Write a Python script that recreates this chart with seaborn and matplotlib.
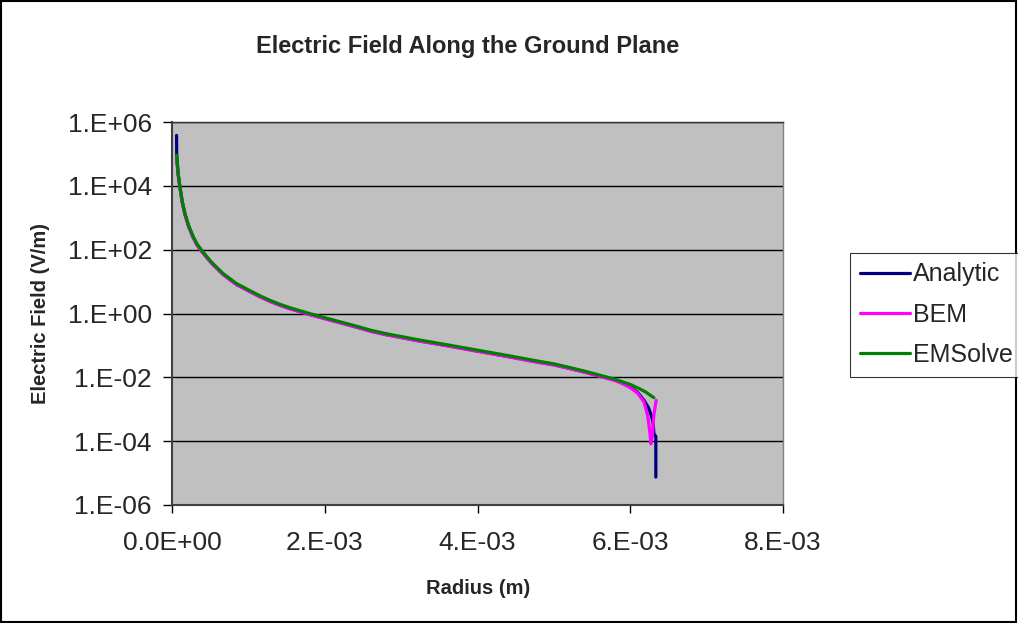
import matplotlib
matplotlib.use("Agg")
import matplotlib.pyplot as plt
from matplotlib.patches import Rectangle
import seaborn as sns
import pandas as pd

# ---------------- data ----------------
r_emsolve = [6.1e-5, 8e-5, 1.05e-4, 1.35e-4, 1.7e-4, 2.2e-4, 2.8e-4, 3.3e-4,
             3.9e-4, 4.5e-4, 5.2e-4, 6.0e-4, 6.7e-4, 7.6e-4, 8.5e-4, 9.4e-4,
             1.02e-3, 1.15e-3, 1.28e-3, 1.4e-3, 1.55e-3, 1.8e-3, 2.0e-3, 2.2e-3,
             2.4e-3, 2.6e-3, 2.8e-3, 3.0e-3, 3.24e-3, 3.6e-3, 4.0e-3, 4.4e-3,
             4.8e-3, 5.0e-3, 5.2e-3, 5.4e-3, 5.6e-3, 5.8e-3, 5.9e-3, 6.0e-3,
             6.12e-3, 6.2e-3, 6.31e-3]
e_emsolve = [9.1e4, 2.5e4, 9.1e3, 3.2e3, 1.35e3, 550, 250, 148,
             95, 63, 40, 26, 17.8, 12.3, 8.5, 6.6,
             5.2, 3.6, 2.6, 2.0, 1.5, 1.0, 0.74, 0.55,
             0.41, 0.30, 0.234, 0.19, 0.148, 0.105, 0.071, 0.048,
             0.032, 0.0265, 0.0205, 0.0157, 0.0117, 0.0087, 0.0072, 0.0060,
             0.0044, 0.0035, 0.0023]

r_bem = [5.8e-5, 8e-5, 1.05e-4, 1.35e-4, 1.7e-4, 2.2e-4, 2.8e-4, 3.3e-4,
         3.9e-4, 4.5e-4, 5.2e-4, 6.0e-4, 6.7e-4, 7.6e-4, 8.5e-4, 9.4e-4,
         1.02e-3, 1.15e-3, 1.28e-3, 1.4e-3, 1.55e-3, 1.8e-3, 2.0e-3, 2.2e-3,
         2.4e-3, 2.6e-3, 2.8e-3, 3.0e-3, 3.24e-3, 3.6e-3, 4.0e-3, 4.4e-3,
         4.8e-3, 5.0e-3, 5.2e-3, 5.4e-3, 5.6e-3, 5.8e-3, 5.9e-3,
         6.0e-3, 6.1e-3, 6.18e-3, 6.23e-3, 6.26e-3, 6.27e-3, 6.29e-3,
         6.31e-3, 6.34e-3]
e_bem = [7.5e4, 2.3e4, 8.4e3, 2.95e3, 1.24e3, 505, 230, 136,
         87, 58, 37, 24, 16.4, 11.3, 7.8, 6.1,
         4.8, 3.3, 2.4, 1.84, 1.38, 0.92, 0.68, 0.51,
         0.38, 0.276, 0.215, 0.175, 0.136, 0.097, 0.065, 0.044,
         0.029, 0.0243, 0.0189, 0.0144, 0.0107, 0.0079, 0.0063,
         0.0048, 0.0031, 0.0017, 6e-4, 1.6e-4, 8.3e-5, 1.5e-4,
         7e-4, 1.9e-3]

r_analytic = [6.0e-5, 6.2e-5, 8e-5, 1.05e-4, 1.35e-4, 1.7e-4, 2.2e-4, 2.8e-4,
              3.3e-4, 3.9e-4, 4.5e-4, 5.2e-4, 6.0e-4, 6.7e-4, 7.6e-4, 8.5e-4,
              9.4e-4, 1.02e-3, 1.15e-3, 1.28e-3, 1.4e-3, 1.55e-3, 1.8e-3, 2.0e-3,
              2.2e-3, 2.4e-3, 2.6e-3, 2.8e-3, 3.0e-3, 3.24e-3, 3.6e-3, 4.0e-3,
              4.4e-3, 4.8e-3, 5.0e-3, 5.2e-3, 5.4e-3, 5.6e-3, 5.8e-3, 5.9e-3,
              6.0e-3, 6.1e-3, 6.18e-3, 6.24e-3, 6.28e-3, 6.30e-3, 6.31e-3,
              6.335e-3, 6.335e-3]
e_analytic = [3.8e5, 9.0e4, 2.35e4, 8.6e3, 3.0e3, 1.27e3, 515, 235,
              139, 89, 59, 37.6, 24.4, 16.7, 11.6, 8.0,
              6.2, 4.9, 3.4, 2.45, 1.88, 1.41, 0.94, 0.70,
              0.52, 0.385, 0.282, 0.22, 0.179, 0.139, 0.099, 0.067,
              0.045, 0.030, 0.0249, 0.0193, 0.0147, 0.011, 0.0082, 0.0066,
              0.0049, 0.0033, 0.0019, 0.0011, 6e-4, 3.5e-4, 1.7e-4,
              1.4e-4, 7.5e-6]

series_names = ["Analytic", "BEM", "EMSolve"]
series_colors = ["#000080", "#FF00FF", "#008000"]

x_ticks = [0.0, 2e-3, 4e-3, 6e-3, 8e-3]
x_ticklabels = ["0.0E+00", "2.E-03", "4.E-03", "6.E-03", "8.E-03"]
y_ticks = [1e-6, 1e-4, 1e-2, 1e0, 1e2, 1e4, 1e6]
y_ticklabels = ["1.E-06", "1.E-04", "1.E-02", "1.E+00", "1.E+02", "1.E+04", "1.E+06"]

title = "Electric Field Along the Ground Plane"
xlabel = "Radius (m)"
ylabel = "Electric Field (V/m)"

# ---------------- build table ----------------
frames = []
for name, r, e in zip(series_names, [r_analytic, r_bem, r_emsolve],
                      [e_analytic, e_bem, e_emsolve]):
    frames.append(pd.DataFrame({"r": r, "E": e, "series": name}))
df = pd.concat(frames, ignore_index=True)

# ---------------- style ----------------
sns.set_style("white")
plt.rcParams["font.family"] = ["Liberation Sans", "DejaVu Sans"]

W, H = 1018, 623
fig = plt.figure(figsize=(W / 100, H / 100), dpi=100)
ax = fig.add_axes([172 / W, 1 - 505 / H, (783 - 172) / W, (505 - 122) / H])
ax.set_facecolor("#C0C0C0")

for name, col in zip(series_names, series_colors):
    sub = df[df["series"] == name]
    sns.lineplot(data=sub, x="r", y="E", ax=ax, sort=False, estimator=None,
                 color=col, linewidth=2.3, label=name)

ax.set_yscale("log")
ax.set_xlim(0, 8e-3)
ax.set_ylim(1e-6, 1e6)
ax.set_xticks(x_ticks)
ax.set_xticklabels(x_ticklabels)
ax.set_yticks(y_ticks)
ax.set_yticklabels(y_ticklabels)
ax.yaxis.set_minor_locator(matplotlib.ticker.NullLocator())
ax.xaxis.set_minor_locator(matplotlib.ticker.NullLocator())

ax.yaxis.grid(True, color="black", linewidth=1.0)
ax.xaxis.grid(False)
ax.set_axisbelow(True)

ax.tick_params(axis="y", which="major", direction="out", length=6.5, width=1,
               color="black", pad=8, labelsize=19, left=True)
ax.tick_params(axis="x", which="major", direction="out", length=6, width=1,
               color="black", pad=13, labelsize=19, bottom=True)

for side in ["left", "bottom"]:
    ax.spines[side].set_color("#404040")
    ax.spines[side].set_linewidth(1.5)
ax.spines["top"].set_color("#303030")
ax.spines["top"].set_linewidth(1.0)
ax.spines["right"].set_color("#808080")
ax.spines["right"].set_linewidth(1.0)

ax.set_xlabel("")
ax.set_ylabel("")

fig.text(468 / W, 1 - 47 / H, title, ha="center", va="center",
         fontsize=17, fontweight="bold")
fig.text(478 / W, 1 - 588 / H, xlabel, ha="center", va="center",
         fontsize=14.5, fontweight="bold")
fig.text(41 / W, 1 - 314 / H, ylabel, ha="center", va="center",
         rotation=90, fontsize=14.5, fontweight="bold")

handles, labels = ax.get_legend_handles_labels()
if ax.get_legend() is not None:
    ax.get_legend().remove()
leg = fig.legend(handles, labels, loc="upper left",
                 bbox_to_anchor=(850 / W, 1 - 253 / H),
                 frameon=True, fancybox=False, shadow=False,
                 fontsize=18, handlelength=2.0, handletextpad=0.15,
                 borderpad=0.38, labelspacing=0.65, borderaxespad=0.0)
leg.get_frame().set_edgecolor("black")
leg.get_frame().set_linewidth(0.8)
leg.get_frame().set_facecolor("white")
for line in leg.get_lines():
    line.set_linewidth(2.3)

fig.patches.append(Rectangle((0.001, 0.001), 0.997, 0.997, transform=fig.transFigure,
                             fill=False, edgecolor="black", linewidth=1.5))

fig.savefig("out.png", dpi=100, facecolor="white")
